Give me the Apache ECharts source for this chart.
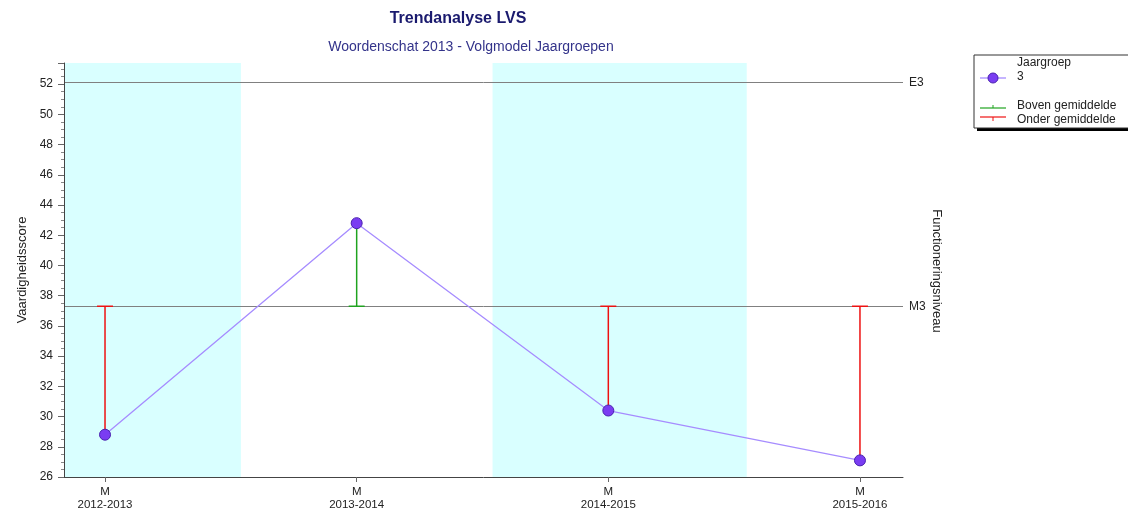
<!DOCTYPE html>
<html>
<head>
<meta charset="utf-8">
<script src="https://cdn.jsdelivr.net/npm/echarts@6/dist/echarts.min.js"></script>
<style>html,body{margin:0;padding:0;background:#fff}#c{width:1128px;height:513px}</style>
</head>
<body>
<div id="c"></div>
<script>
var categories = ['2012-2013', '2013-2014', '2014-2015', '2015-2016'];
var periods = ['M', 'M', 'M', 'M'];
var scores = [28.8, 42.8, 30.4, 27.1];
var normNames = ['E3', 'M3'];
var normValues = [52.1, 37.3];
var refLevel = 37.3;
var bandStarts = [-0.163, 1.54];
var bandEnds = [0.54, 2.55];
var yTicksMin = 26, yTicksMax = 53.4;

var chart = echarts.init(document.getElementById('c'));
var FONT = 'Arial, "Liberation Sans", sans-serif';

var pointData = scores.map(function (v, i) { return [i, v]; });
var barData = scores.map(function (v, i) { return [i, v, refLevel]; });

var option = {
  animation: false,
  backgroundColor: '#ffffff',
  title: [
    { text: 'Trendanalyse LVS', left: 453, top: 6, textAlign: 'center',
      textStyle: { fontFamily: FONT, fontSize: 16, fontWeight: 'bold', color: '#1a1a6e' } },
    { text: 'Woordenschat 2013 - Volgmodel Jaargroepen', left: 466, top: 35, textAlign: 'center',
      textStyle: { fontFamily: FONT, fontSize: 14, fontWeight: 'normal', color: '#33338a' } }
  ],
  grid: { left: 64, right: 225, top: 63, bottom: 36, containLabel: false },
  xAxis: {
    type: 'value', min: -0.163, max: 3.171, z: 10,
    splitLine: { show: false },
    axisLine: { show: true, onZero: false, lineStyle: { color: '#444', width: 1 } },
    axisTick: { show: true, customValues: [0, 1, 2, 3], length: 5, lineStyle: { color: '#666' } },
    axisLabel: {
      customValues: [0, 1, 2, 3], margin: 8, lineHeight: 13,
      fontFamily: FONT, fontSize: 11.5, color: '#222',
      formatter: function (v) { var i = Math.round(v); return periods[i] + '\n' + categories[i]; }
    }
  },
  yAxis: {
    type: 'value', min: yTicksMin, max: yTicksMax, interval: 2, z: 10,
    name: 'Vaardigheidsscore', nameLocation: 'middle', nameRotate: 90, nameGap: 34,
    nameTextStyle: { fontFamily: FONT, fontSize: 13, color: '#222' },
    splitLine: { show: false },
    axisLine: { show: true, onZero: false, lineStyle: { color: '#444', width: 1 } },
    axisTick: { show: true, length: 6, lineStyle: { color: '#666' } },
    minorTick: { show: true, splitNumber: 4, length: 3, lineStyle: { color: '#888' } },
    axisLabel: { fontFamily: FONT, fontSize: 12, color: '#222', margin: 11,
      showMaxLabel: false }
  },
  series: [
    {
      name: 'bands', type: 'line', data: [], silent: true, z: 1,
      markArea: {
        silent: true,
        itemStyle: { color: '#d9ffff' },
        data: bandStarts.map(function (s, i) { return [{ xAxis: s }, { xAxis: bandEnds[i] }]; })
      },
      markLine: {
        silent: true, symbol: 'none',
        lineStyle: { color: '#808080', width: 1, type: 'solid' },
        label: { show: true, position: 'end', distance: 6, fontFamily: FONT, fontSize: 12, color: '#222',
          formatter: function (p) { return p.name; } },
        data: normValues.map(function (v, i) { return { name: normNames[i], yAxis: v }; })
      }
    },
    {
      name: 'Afwijking', type: 'custom', data: barData, z: 6,
      renderItem: function (params, api) {
        var x = api.value(0), y = api.value(1), r = api.value(2);
        var p = api.coord([x, y]);
        var q = api.coord([x, r]);
        var color = y >= r ? '#1fa31f' : '#ee1111';
        return {
          type: 'group',
          children: [
            { type: 'line', shape: { x1: p[0], y1: p[1], x2: q[0], y2: q[1] }, style: { stroke: color, lineWidth: 1.5 } },
            { type: 'line', shape: { x1: q[0] - 8, y1: q[1], x2: q[0] + 8, y2: q[1] }, style: { stroke: color, lineWidth: 1.5 } }
          ]
        };
      }
    },
    {
      name: 'Jaargroep 3', type: 'line', data: pointData, z: 7,
      symbol: 'circle', symbolSize: 11,
      lineStyle: { color: '#a68cff', width: 1.3 },
      itemStyle: { color: '#7a3df2', borderColor: '#4a22b0', borderWidth: 1 }
    }
  ],
  graphic: [
    { type: 'rect', shape: { x: 977, y: 58, width: 160, height: 73 }, style: { fill: '#000' }, silent: true },
    { type: 'rect', shape: { x: 974, y: 55, width: 160, height: 73 }, style: { fill: '#fff', stroke: '#333', lineWidth: 1 }, silent: true },
    { type: 'line', shape: { x1: 980, y1: 78, x2: 1006, y2: 78 }, style: { stroke: '#a68cff', lineWidth: 1.3 } },
    { type: 'circle', shape: { cx: 993, cy: 78, r: 5 }, style: { fill: '#7a3df2', stroke: '#4a22b0', lineWidth: 1 } },
    { type: 'text', x: 1017, y: 57, style: { text: 'Jaargroep', fontFamily: FONT, fontSize: 12, fill: '#222' } },
    { type: 'text', x: 1017, y: 71, style: { text: '3', fontFamily: FONT, fontSize: 12, fill: '#222' } },
    { type: 'line', shape: { x1: 980, y1: 108, x2: 1006, y2: 108 }, style: { stroke: '#1fa31f', lineWidth: 1.2 } },
    { type: 'line', shape: { x1: 993, y1: 105, x2: 993, y2: 108 }, style: { stroke: '#1fa31f', lineWidth: 1 } },
    { type: 'text', x: 1017, y: 100, style: { text: 'Boven gemiddelde', fontFamily: FONT, fontSize: 12, fill: '#222' } },
    { type: 'line', shape: { x1: 980, y1: 117, x2: 1006, y2: 117 }, style: { stroke: '#ee1111', lineWidth: 1.2 } },
    { type: 'line', shape: { x1: 993, y1: 117, x2: 993, y2: 121 }, style: { stroke: '#ee1111', lineWidth: 1 } },
    { type: 'text', x: 1017, y: 114, style: { text: 'Onder gemiddelde', fontFamily: FONT, fontSize: 12, fill: '#222' } },
    { type: 'text', x: 937, y: 271, rotation: -Math.PI / 2,
      style: { text: 'Functioneringsniveau', fontFamily: FONT, fontSize: 13, fill: '#222', align: 'center', verticalAlign: 'middle' } }
  ]
};
chart.setOption(option);
</script>
</body>
</html>
